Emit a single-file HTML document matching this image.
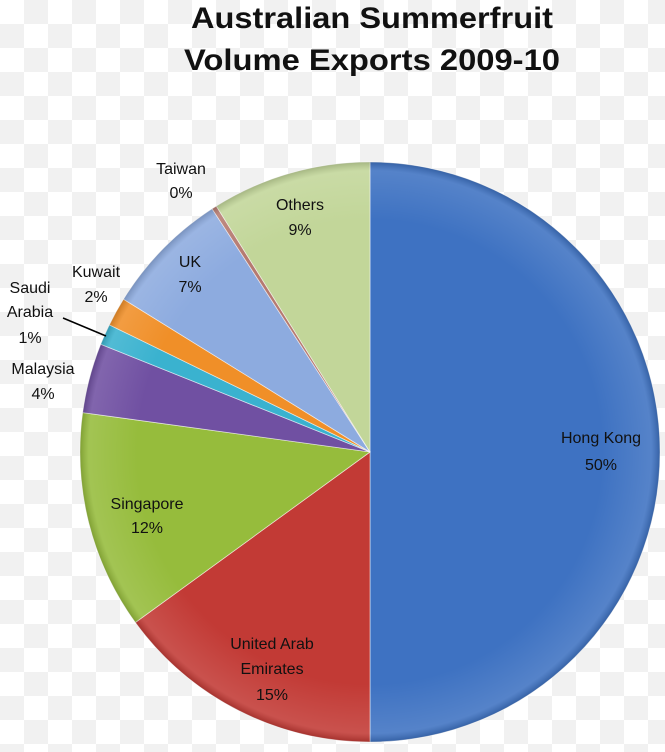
<!DOCTYPE html>
<html><head><style>
html,body{margin:0;padding:0;}
body{width:665px;height:747px;overflow:hidden;background-color:#fff;
background-image:conic-gradient(#f1f1f1 25%,#fff 0 50%,#f1f1f1 0 75%,#fff 0);background-size:48px 48px;}
text{font-family:"Liberation Sans",sans-serif;fill:#111;}
</style></head><body>
<svg width="665" height="747" viewBox="0 0 665 747" xmlns="http://www.w3.org/2000/svg">
<defs>
<radialGradient id="sh" cx="370" cy="452" r="290" gradientUnits="userSpaceOnUse">
<stop offset="0.8" stop-color="#fff" stop-opacity="0"/>
<stop offset="0.97" stop-color="#fff" stop-opacity="0.12"/>
<stop offset="1" stop-color="#000" stop-opacity="0.15"/>
</radialGradient>
</defs>
<text x="372" y="28" text-anchor="middle" font-size="30" font-weight="bold" textLength="362" lengthAdjust="spacingAndGlyphs">Australian Summerfruit</text>
<text x="372" y="70" text-anchor="middle" font-size="30" font-weight="bold" textLength="376" lengthAdjust="spacingAndGlyphs">Volume Exports 2009-10</text>
<g stroke="#ffffff" stroke-width="0.8" stroke-opacity="0.6">
<path d="M370,452 L370,162 A290,290 0 0 1 370,742 Z" fill="#3e72c2"/>
<path d="M370,452 L370,742 A290,290 0 0 1 135.4,622.5 Z" fill="#c23a35"/>
<path d="M370,452 L135.4,622.5 A290,290 0 0 1 82.7,412.6 Z" fill="#96bc3c"/>
<path d="M370,452 L82.7,412.6 A290,290 0 0 1 100.7,344.3 Z" fill="#7050a2"/>
<path d="M370,452 L100.7,344.3 A290,290 0 0 1 109.4,324.9 Z" fill="#3ab2cf"/>
<path d="M370,452 L109.4,324.9 A290,290 0 0 1 123.5,299.2 Z" fill="#f08f28"/>
<path d="M370,452 L123.5,299.2 A290,290 0 0 1 212.1,208.8 Z" fill="#8dabdf"/>
<path d="M370,452 L212.1,208.8 A290,290 0 0 1 216.3,206.1 Z" fill="#b57a70"/>
<path d="M370,452 L216.3,206.1 A290,290 0 0 1 370,162 Z" fill="#c2d699"/>
</g>
<circle cx="370" cy="452" r="290" fill="url(#sh)"/>
<line x1="63" y1="318" x2="106" y2="336" stroke="#000" stroke-width="1.5"/>
<g font-size="16" text-anchor="middle">
<text x="181" y="174">Taiwan</text><text x="181" y="198">0%</text>
<text x="300" y="210">Others</text><text x="300" y="235">9%</text>
<text x="190" y="267">UK</text><text x="190" y="292">7%</text>
<text x="96" y="277">Kuwait</text><text x="96" y="302">2%</text>
<text x="30" y="293">Saudi</text><text x="30" y="317">Arabia</text><text x="30" y="343">1%</text>
<text x="43" y="374">Malaysia</text><text x="43" y="399">4%</text>
<text x="147" y="509">Singapore</text><text x="147" y="533">12%</text>
<text x="272" y="649">United Arab</text><text x="272" y="674">Emirates</text><text x="272" y="700">15%</text>
<text x="601" y="443">Hong Kong</text><text x="601" y="470">50%</text>
</g>
</svg>
</body></html>
